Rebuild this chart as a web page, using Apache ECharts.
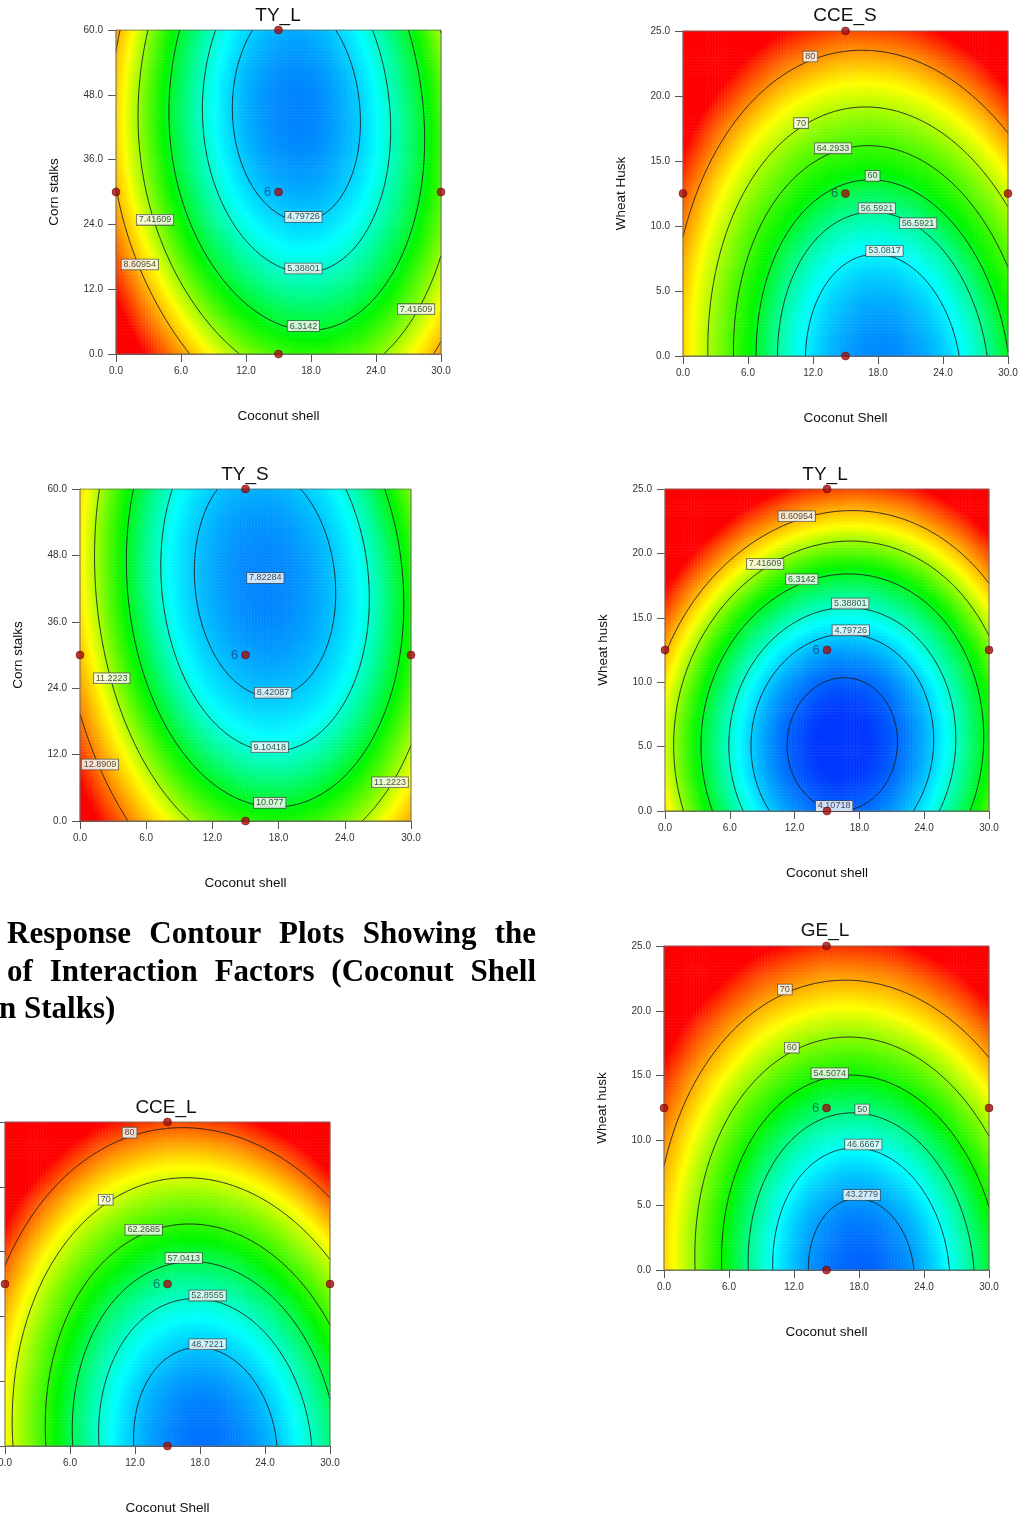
<!DOCTYPE html>
<html>
<head>
<meta charset="utf-8">
<script src="https://cdn.jsdelivr.net/npm/echarts@6/dist/echarts.min.js"></script>
<style>
html,body{margin:0;padding:0;background:#fff;}
#chart{position:absolute;left:0;top:0;width:1021px;height:1517px;}
.cap{position:absolute;font-family:"Liberation Serif","Times New Roman",serif;font-weight:bold;font-size:31px;line-height:38px;color:#000;white-space:nowrap;}
.just{text-align:justify;text-align-last:justify;white-space:normal;}
</style>
</head>
<body>
<div id="chart"></div>
<div class="cap just" style="left:7px;top:914px;width:529px;">Response Contour Plots Showing the</div>
<div class="cap just" style="left:7px;top:952px;width:529px;">of Interaction Factors (Coconut Shell</div>
<div class="cap" style="left:-1px;top:989px;">n Stalks)</div>
<script>
// ---------- factor levels (design levels) ----------
const coconutShell = [0, 15, 30];
const cornStalks   = [0, 30, 60];
const wheatHusk    = [0, 12.5, 25];

// ---------- tick values ----------
const coconutTicks = [0, 6, 12, 18, 24, 30];
const cornTicks    = [0, 12, 24, 36, 48, 60];
const wheatTicks   = [0, 5, 10, 15, 20, 25];

// ---------- predicted responses at the 3x3 factor-level grid ----------
// rows: second factor low / mid / high ; columns: coconut shell 0 / 15 / 30
const tyL_corn   = [[11.5, 6.91, 8.84], [8.65, 4.62, 6.96], [8.8, 4.60, 7.45]];
const cceS_wheat = [[76.42, 49.94, 59.90], [83.43, 58.95, 71.59], [106.37, 84.0, 99.23]];
const tyS_corn   = [[14.8, 10.47, 12.47], [12.25, 8.14, 10.43], [12.0, 8.24, 10.94]];
const tyL_wheat  = [[8.24, 4.14, 7.01], [8.70, 4.55, 7.18], [14.3, 9.65, 12.0]];
const geL_wheat  = [[67.63, 42.21, 52.43], [74.47, 50.98, 63.13], [98.78, 77.23, 91.31]];
const cceL_wheat = [[72.10, 46.26, 55.66], [78.19, 54.86, 66.77], [102.19, 81.38, 95.80]];

// ---------- contour levels ----------
const tyL_levels_corn  = [4.79726, 5.38801, 6.3142, 7.41609, 8.60954];
const cceS_levels      = [53.0817, 56.5921, 60, 64.2933, 70, 80];
const tyS_levels       = [7.82284, 8.42087, 9.10418, 10.077, 11.2223, 12.8909];
const tyL_levels_wheat = [4.10718, 4.79726, 5.38801, 6.3142, 7.41609, 8.60954];
const geL_levels       = [43.2779, 46.6667, 50, 54.5074, 60, 70];
const cceL_levels      = [48.7221, 52.8555, 57.0413, 62.2685, 70, 80];

// ---------- colour scale anchors (value at blue, cyan, green, yellow, red) ----------
const tyL_colorStops  = [3.8, 5.1, 6.5, 8.0, 10.2];
const cceS_colorStops = [46, 53.5, 61, 74, 88];
const tyS_colorStops  = [7.2, 8.9, 10.2, 11.7, 14.0];
const geL_colorStops  = [40, 46.5, 54, 65, 80];
const cceL_colorStops = [43, 51, 60, 72, 85];
const PALETTE = ['#0038ff', '#00ffff', '#00f800', '#ffff00', '#ff0000'];

const centerRuns = 6;
const FONT = '"Liberation Sans", Arial, sans-serif';

// ---------- panel layout ----------
const panels = [
  {title:'TY_L', tx:278, ty:16, rect:[116,30,325,324], xName:'Coconut shell', yName:'Corn stalks',
   yLv:cornStalks, yTicks:cornTicks, values:tyL_corn, levels:tyL_levels_corn, stops:tyL_colorStops,
   labels:[[0,'x',17.3,'min'],[1,'x',17.3,'min'],[2,'x',17.3,'min'],[3,'x',3.6,'min'],[4,'x',2.2,'min'],[3,'x',27.7,'min']]},
  {title:'CCE_S', tx:845, ty:16, rect:[683,31,325,325], xName:'Coconut Shell', yName:'Wheat Husk',
   yLv:wheatHusk, yTicks:wheatTicks, values:cceS_wheat, levels:cceS_levels, stops:cceS_colorStops,
   labels:[[0,'x',18.6,'max'],[1,'x',17.9,'max'],[1,'x',21.7,'max'],[2,'x',17.5,'max'],[3,'x',13.85,'max'],[4,'x',10.9,'max'],[5,'x',11.75,'max']]},
  {title:'TY_S', tx:245, ty:475, rect:[80,489,331,332], xName:'Coconut shell', yName:'Corn stalks',
   yLv:cornStalks, yTicks:cornTicks, values:tyS_corn, levels:tyS_levels, stops:tyS_colorStops,
   labels:[[0,'argmin'],[1,'x',17.5,'min'],[2,'x',17.2,'min'],[3,'x',17.2,'min'],[4,'x',2.87,'min'],[5,'x',1.81,'min'],[4,'x',28.1,'min']]},
  {title:'TY_L', tx:825, ty:475, rect:[665,489,324,322], xName:'Coconut shell', yName:'Wheat husk',
   yLv:wheatHusk, yTicks:wheatTicks, values:tyL_wheat, levels:tyL_levels_wheat, stops:tyL_colorStops,
   labels:[[5,'x',12.2,'max'],[4,'x',9.27,'max'],[3,'x',12.67,'max'],[2,'x',17.15,'max'],[1,'x',17.2,'max'],[0,'x',15.66,'min']]},
  {title:'GE_L', tx:825, ty:931, rect:[664,946,325,324], xName:'Coconut shell', yName:'Wheat husk',
   yLv:wheatHusk, yTicks:wheatTicks, values:geL_wheat, levels:geL_levels, stops:geL_colorStops,
   labels:[[5,'x',11.15,'max'],[4,'x',11.8,'max'],[3,'x',15.3,'max'],[2,'x',18.3,'max'],[1,'x',18.4,'max'],[0,'x',18.25,'max']]},
  {title:'CCE_L', tx:166, ty:1108, rect:[5,1122,325,324], xName:'Coconut Shell', yName:'',
   yLv:wheatHusk, yTicks:wheatTicks, values:cceL_wheat, levels:cceL_levels, stops:cceL_colorStops, hideYLabels:true,
   labels:[[5,'x',11.5,'max'],[4,'x',9.3,'max'],[3,'x',12.8,'max'],[2,'x',16.5,'max'],[1,'x',18.7,'max'],[0,'x',18.7,'max']]}
];

// ---------- helpers ----------
function lag(s){ return [(s-1)*(s-2)/2, -s*(s-2), s*(s-1)/2]; }
function makeField(grid, xLv, yLv){
  const hx = xLv[1]-xLv[0], hy = yLv[1]-yLv[0];
  return function(x, y){
    const lx = lag((x-xLv[0])/hx), ly = lag((y-yLv[0])/hy);
    let s = 0;
    for (let j=0;j<3;j++) for (let i=0;i<3;i++) s += grid[j][i]*lx[i]*ly[j];
    return s;
  };
}
function colorPos(v, st){
  if (v <= st[0]) return 0;
  for (let k=0;k<st.length-1;k++) if (v <= st[k+1]) return k + (v-st[k])/(st[k+1]-st[k]);
  return st.length-1;
}
function contour(F, M, xmax, ymax, L){
  const pts = {}, segs = [], byKey = {};
  function ep(key, i1, j1, i2, j2){
    if (!pts[key]){
      const a = F[j1][i1]-L, b = F[j2][i2]-L, t = a/(a-b);
      pts[key] = [(i1+(i2-i1)*t)/M*xmax, (j1+(j2-j1)*t)/M*ymax];
    }
    return key;
  }
  for (let j=0;j<M;j++) for (let i=0;i<M;i++){
    const v00=F[j][i], v10=F[j][i+1], v11=F[j+1][i+1], v01=F[j+1][i];
    const s00=v00>=L, s10=v10>=L, s11=v11>=L, s01=v01>=L;
    const e=[];
    if (s00!==s10) e.push(ep('h'+i+'_'+j, i,j,i+1,j));
    if (s10!==s11) e.push(ep('v'+(i+1)+'_'+j, i+1,j,i+1,j+1));
    if (s11!==s01) e.push(ep('h'+i+'_'+(j+1), i,j+1,i+1,j+1));
    if (s01!==s00) e.push(ep('v'+i+'_'+j, i,j,i,j+1));
    if (e.length===2) segs.push([e[0],e[1]]);
    else if (e.length===4){
      const c = (v00+v10+v11+v01)/4 >= L;
      if (c===s00){ segs.push([e[0],e[1]]); segs.push([e[2],e[3]]); }
      else { segs.push([e[0],e[3]]); segs.push([e[1],e[2]]); }
    }
  }
  segs.forEach((s,idx)=>{ (byKey[s[0]]=byKey[s[0]]||[]).push(idx); (byKey[s[1]]=byKey[s[1]]||[]).push(idx); });
  const used = new Uint8Array(segs.length), lines = [];
  for (let s0=0;s0<segs.length;s0++){
    if (used[s0]) continue;
    used[s0]=1;
    const chain=[segs[s0][0], segs[s0][1]];
    const extend = (atEnd)=>{
      for(;;){
        const key = atEnd ? chain[chain.length-1] : chain[0];
        const cand = byKey[key].find(q=>!used[q]);
        if (cand===undefined) break;
        used[cand]=1;
        const s = segs[cand], nxt = s[0]===key ? s[1] : s[0];
        if (atEnd) chain.push(nxt); else chain.unshift(nxt);
      }
    };
    extend(true); extend(false);
    lines.push(chain.map(k=>pts[k]));
  }
  return lines;
}
function labelPoint(f, level, spec, xmax, ymax){
  if (spec[1]==='argmin'){
    let best=Infinity, bp=null;
    for (let j=0;j<=200;j++) for (let i=0;i<=200;i++){
      const x=i/200*xmax, y=j/200*ymax, v=f(x,y);
      if (v<best){best=v; bp=[x,y];}
    }
    return bp;
  }
  const axis=spec[1], c=spec[2], pick=spec[3], n=800, hits=[];
  const at = t => axis==='x' ? [c, t*ymax] : [t*xmax, c];
  for (let k=0;k<n;k++){
    const p0=at(k/n), p1=at((k+1)/n);
    const g0=f(p0[0],p0[1])-level, g1=f(p1[0],p1[1])-level;
    if (g0===0 || g0*g1<0){ hits.push((k + g0/(g0-g1))/n); }
  }
  if (!hits.length) return null;
  return at(pick==='max' ? hits[hits.length-1] : hits[0]);
}

// ---------- build option ----------
const N = 110, M = 150;
const cats = Array.from({length:N}, (_, i) => i);
const grids=[], xAxes=[], yAxes=[], series=[], visualMaps=[], graphics=[];
const axisCommon = {
  axisLine:{show:true, lineStyle:{color:'#555', width:1}},
  axisTick:{show:true, length:8, lineStyle:{color:'#555'}},
  splitLine:{show:false},
  nameLocation:'middle', nameGap:55,
  nameTextStyle:{fontSize:13.5, color:'#111', fontFamily:FONT}
};

panels.forEach((p, k) => {
  const [L,T,W,H] = p.rect;
  const xmax = coconutShell[2], ymax = p.yLv[2];
  grids.push({left:L, top:T, width:W, height:H, containLabel:false, outerBoundsMode:'none', show:false});
  const xi = xAxes.length, yi = yAxes.length;
  xAxes.push(Object.assign({}, axisCommon, {
    gridIndex:k, type:'value', min:coconutTicks[0], max:coconutTicks[coconutTicks.length-1],
    interval:coconutTicks[1]-coconutTicks[0], name:p.xName,
    axisLabel:{margin:12, fontSize:10, color:'#333', fontFamily:FONT, formatter:v=>v.toFixed(1)}
  }));
  xAxes.push({gridIndex:k, type:'category', data:cats, show:false});
  yAxes.push(Object.assign({}, axisCommon, {
    gridIndex:k, type:'value', min:p.yTicks[0], max:p.yTicks[p.yTicks.length-1],
    interval:p.yTicks[1]-p.yTicks[0], name:p.yName,
    axisLabel:{show:!p.hideYLabels, margin:13, fontSize:10, color:'#333', fontFamily:FONT, formatter:v=>v.toFixed(1)}
  }));
  yAxes.push({gridIndex:k, type:'category', data:cats, show:false});

  const f = makeField(p.values, coconutShell, p.yLv);

  // colour field
  const hm = [];
  for (let j=0;j<N;j++) for (let i=0;i<N;i++){
    const v = f((i+0.5)/N*xmax, (j+0.5)/N*ymax);
    hm.push([i, j, v, colorPos(v, p.stops)]);
  }
  const hmIndex = series.length;
  series.push({type:'heatmap', xAxisIndex:xi+1, yAxisIndex:yi+1, data:hm, progressive:0,
    silent:true, emphasis:{disabled:true}, itemStyle:{borderWidth:0}, z:1, animation:false});
  visualMaps.push({type:'continuous', show:false, seriesIndex:hmIndex, dimension:3, min:0, max:4,
    inRange:{color:PALETTE}});

  // contour lines
  const F = [];
  for (let j=0;j<=M;j++){ const row=[]; for (let i=0;i<=M;i++) row.push(f(i/M*xmax, j/M*ymax)); F.push(row); }
  const lineData = [];
  p.levels.forEach(lv => contour(F, M, xmax, ymax, lv).forEach(pts => { if (pts.length>1) lineData.push({coords:pts}); }));
  lineData.push({coords:[[0,0],[xmax,0],[xmax,ymax],[0,ymax],[0,0]], lineStyle:{color:'#6a6a6a', width:1, opacity:1}});
  series.push({type:'lines', coordinateSystem:'cartesian2d', xAxisIndex:xi, yAxisIndex:yi, polyline:true,
    data:lineData, lineStyle:{color:'#1e1e1e', width:0.9, opacity:1, curveness:0}, silent:true, z:3, animation:false});

  // contour labels
  const labelData = [];
  p.labels.forEach(spec => {
    const lv = p.levels[spec[0]];
    const pt = labelPoint(f, lv, spec, xmax, ymax);
    if (pt) labelData.push({name:String(lv), value:pt});
  });
  series.push({type:'scatter', xAxisIndex:xi, yAxisIndex:yi, symbolSize:2, silent:true, z:4, animation:false,
    itemStyle:{color:'rgba(0,0,0,0)'}, data:labelData, labelLayout:{hideOverlap:false, dy:-4},
    label:{show:true, position:'inside', formatter:d=>d.name, fontSize:9, fontFamily:FONT, color:'#222',
      backgroundColor:'#fff', borderColor:'#444', borderWidth:0.8, padding:[1,2,0,2]}});

  // design points: centre + axial points
  const xm = coconutShell[1], ym = p.yLv[1];
  const design = [
    {value:[xm, ym], label:{show:true, formatter:String(centerRuns), position:'left', distance:3,
      fontSize:13, fontFamily:FONT, color:'rgba(25,45,95,0.8)'}},
    {value:[xm, p.yLv[0]]}, {value:[xm, p.yLv[2]]},
    {value:[coconutShell[0], ym]}, {value:[coconutShell[2], ym]}
  ];
  series.push({type:'scatter', xAxisIndex:xi, yAxisIndex:yi, symbolSize:8, silent:true, z:5, animation:false,
    itemStyle:{color:'#a00c0c', borderColor:'#600', borderWidth:0.6}, data:design});

  graphics.push({type:'text', x:p.tx, y:p.ty, z:10,
    style:{text:p.title, fontSize:19, fontFamily:FONT, fill:'#111', align:'center', verticalAlign:'middle'}});
});

const chart = echarts.init(document.getElementById('chart'), null, {renderer:'canvas', width:1021, height:1517});
chart.setOption({
  animation:false,
  backgroundColor:'#fff',
  grid:grids, xAxis:xAxes, yAxis:yAxes,
  visualMap:visualMaps, series:series, graphic:graphics
});
</script>
</body>
</html>
